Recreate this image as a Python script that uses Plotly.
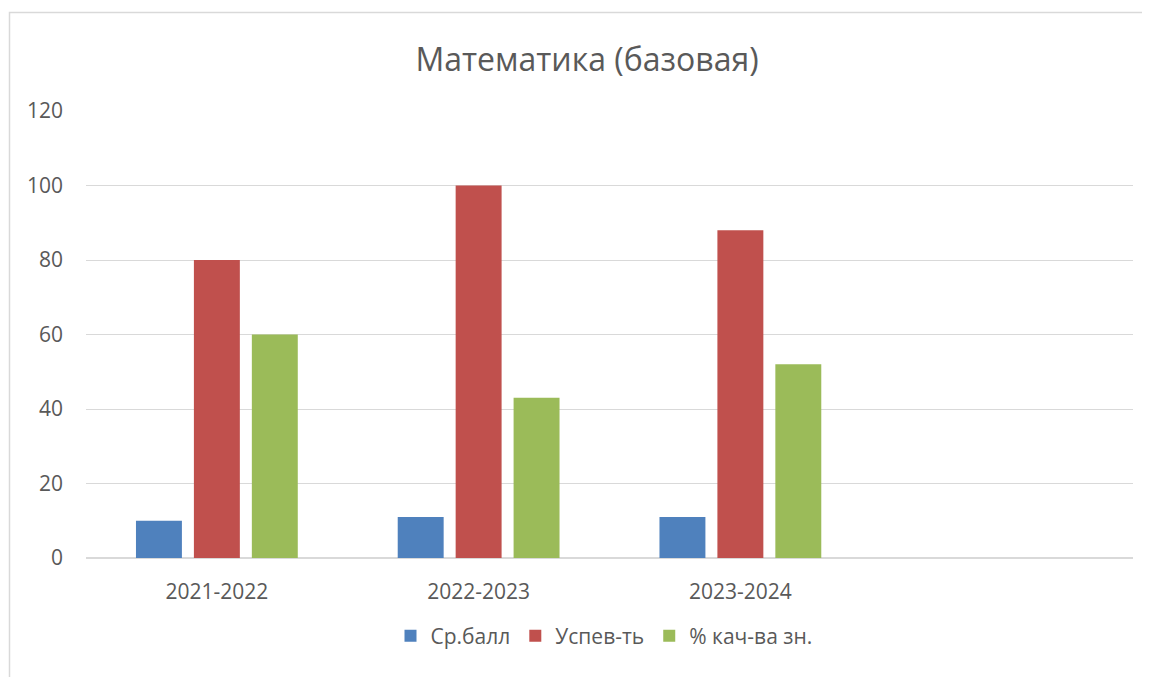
import plotly.graph_objects as go

categories = ["2021-2022", "2022-2023", "2023-2024"]
series_names = ["Ср.балл", "Успев-ть", "% кач-ва зн."]
avg_score = [10, 11, 11]
success = [80, 100, 88]
quality = [60, 43, 52]
colors = ["#4F81BD", "#C0504D", "#9BBB59"]
y_ticks = [0, 20, 40, 60, 80, 100, 120]

# page body has an 8px margin; target pixel coords are in window space
O = 8
W, H = 1150, 677
PL, PR, PT, PB = 86, 1133, 111, 558   # plot area in window pixels
L = PL - O
T = PT - O
R = W - (PR - O)
B = H - (PB - O)
pw, ph = PR - PL, PB - PT

def px_x(p):
    return (p - PL) / pw

def px_y(p):
    return (PB - p) / ph

fig = go.Figure()
for name, vals, col in zip(series_names, [avg_score, success, quality], colors):
    fig.add_trace(go.Bar(x=categories, y=vals, name=name, marker_color=col,
                         marker_line_width=0))

fig.add_shape(type="rect", xref="paper", yref="paper",
              x0=px_x(9.5), x1=px_x(1300), y0=px_y(900), y1=px_y(12.5),
              line=dict(color="#d9d9d9", width=1.5), layer="below")

fig.update_layout(
    width=W, height=H,
    margin=dict(l=L, r=R, t=T, b=B),
    paper_bgcolor="white", plot_bgcolor="white",
    font=dict(family="Open Sans", color="#595959", size=20),
    title=dict(text="Математика (базовая)", x=px_x(587), xanchor="center",
               xref="paper",
               y=1 - (60 - O) / H, yanchor="middle",
               font=dict(size=32, color="#595959", family="Open Sans")),
    barmode="group", bargap=0.336, bargroupgap=0.207,
    legend=dict(orientation="h", x=px_x(604), xanchor="center", y=px_y(636),
                yanchor="middle", font=dict(size=21, color="#595959"),
                traceorder="normal"),
    xaxis=dict(type="category", categoryarray=categories + [" "],
               range=[-0.5, 3.5], showgrid=False, showline=False,
               ticks="", tickfont=dict(size=21), ticklabelstandoff=19,
               zeroline=False),
    yaxis=dict(range=[0, 120], tickvals=y_ticks, showgrid=True,
               gridcolor="#d9d9d9", gridwidth=1, zeroline=True,
               zerolinecolor="#d9d9d9", zerolinewidth=1.5, showline=False,
               ticks="", tickfont=dict(size=21), ticklabelstandoff=22),
)

fig.write_html("out.html")
